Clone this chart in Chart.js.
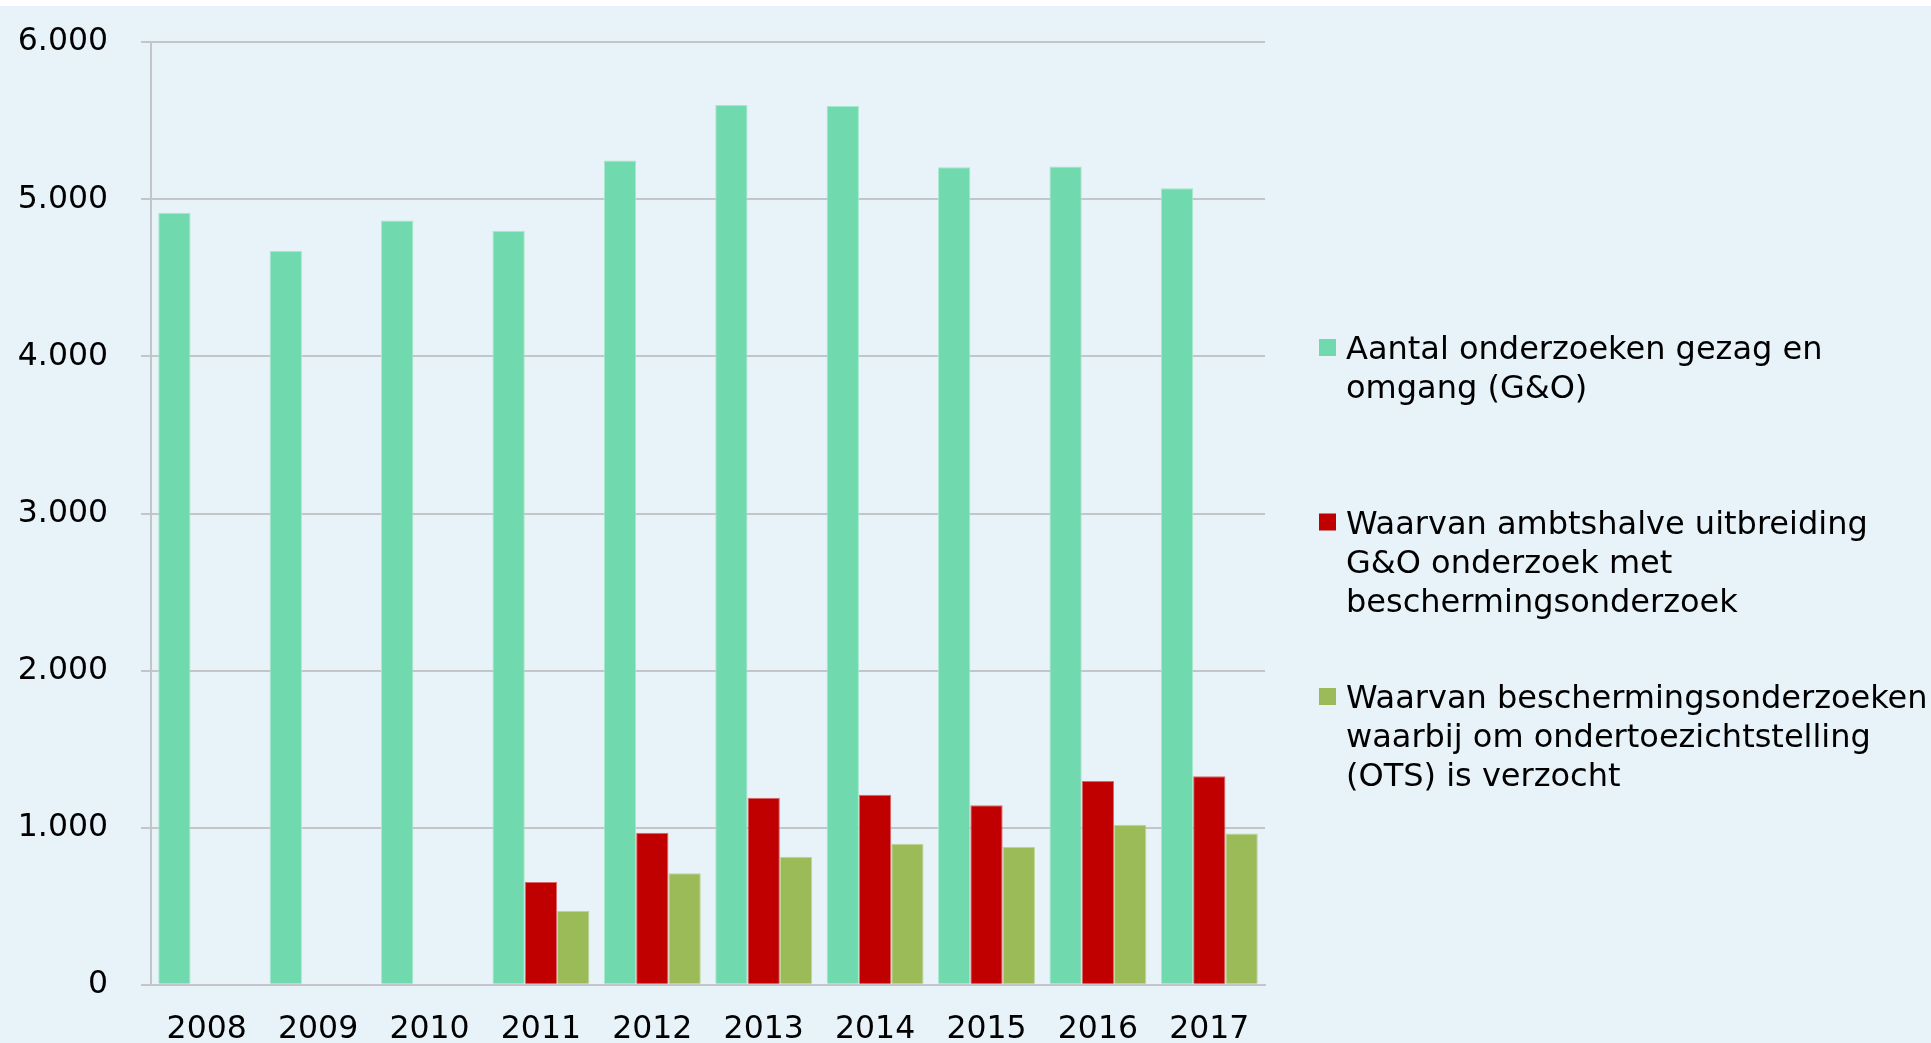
<!DOCTYPE html>
<html>
<head>
<meta charset="utf-8">
<script src="https://cdn.jsdelivr.net/npm/chart.js@4/dist/chart.umd.min.js"></script>
<style>
  html, body { margin: 0; padding: 0; background: #ffffff; overflow: hidden; }
  #wrap { position: absolute; left: 0; top: 6px; width: 1931px; height: 1037px; background: #e8f2f9; }
</style>
</head>
<body>
<div id="wrap"><canvas id="myChart" width="1931" height="1037"></canvas></div>
<script>
// data
var years = ['2008', '2009', '2010', '2011', '2012', '2013', '2014', '2015', '2016', '2017'];
var gezagOmgang = [4915, 4671, 4866, 4798, 5248, 5601, 5595, 5204, 5210, 5070];
var ambtshalve = [null, null, null, 654, 968, 1191, 1210, 1142, 1297, 1327];
var otsVerzocht = [null, null, null, 469, 710, 815, 898, 877, 1019, 962];
var yTicks = [0, 1000, 2000, 3000, 4000, 5000, 6000];

var legendLines = [
  ['Aantal onderzoeken gezag en', 'omgang (G&O)'],
  ['Waarvan ambtshalve uitbreiding', 'G&O onderzoek met', 'beschermingsonderzoek'],
  ['Waarvan beschermingsonderzoeken', 'waarbij om ondertoezichtstelling', '(OTS) is verzocht']
];

var fontFamily = '"DejaVu Sans", Verdana, sans-serif';

function fmt(v) {
  return String(v).replace(/\B(?=(\d{3})+(?!\d))/g, '.');
}

// legend drawn at the right, one item per dataset, evenly spaced like the original
var sideLegend = {
  id: 'sideLegend',
  afterDraw: function(chart) {
    var ctx = chart.ctx;
    var x0 = chart.chartArea.right + 54;
    var top = 333;
    ctx.save();
    ctx.font = '32px ' + fontFamily;
    ctx.textBaseline = 'alphabetic';
    ctx.textAlign = 'left';
    chart.data.datasets.forEach(function(ds, i) {
      var y = top + i * 174.5;
      ctx.fillStyle = ds.backgroundColor;
      ctx.fillRect(x0, y, 17, 17);
      ctx.fillStyle = '#000000';
      legendLines[i].forEach(function(line, j) {
        ctx.fillText(line, x0 + 27, y + 20 + j * 39);
      });
    });
    ctx.restore();
  }
};

var ctx = document.getElementById('myChart').getContext('2d');
var myChart = new Chart(ctx, {
  type: 'bar',
  data: {
    labels: years,
    datasets: [
      { label: legendLines[0].join(' '), data: gezagOmgang, backgroundColor: '#70d9ae', borderColor: '#a6e8cc', borderWidth: 1 },
      { label: legendLines[1].join(' '), data: ambtshalve, backgroundColor: '#c00000', borderColor: '#d96a6a', borderWidth: 1 },
      { label: legendLines[2].join(' '), data: otsVerzocht, backgroundColor: '#9bbb59', borderColor: '#bfd494', borderWidth: 1 }
    ]
  },
  options: {
    responsive: false,
    animation: false,
    layout: { padding: { top: 36.3, right: 666, left: 0, bottom: 0 } },
    datasets: { bar: { barPercentage: 1, categoryPercentage: 0.87 } },
    plugins: {
      legend: { display: false },
      tooltip: { enabled: false }
    },
    scales: {
      x: {
        grid: { display: false, drawTicks: false },
        border: { display: true, color: '#c3c6c9', width: 2 },
        ticks: { color: '#000000', padding: 26, font: { family: fontFamily, size: 31.5 } },
        afterFit: function(s) { s.height = 58.3; }
      },
      y: {
        min: 0,
        max: 6000,
        afterBuildTicks: function(s) { s.ticks = yTicks.map(function(v) { return { value: v }; }); },
        grid: { color: '#c3c6c9', lineWidth: 2, tickLength: 10 },
        border: { display: true, color: '#c3c6c9', width: 2 },
        ticks: {
          color: '#000000',
          padding: 33,
          font: { family: fontFamily, size: 31.5 },
          callback: function(v) { return fmt(v); }
        },
        afterFit: function(s) {
          s.width = 151;
          // the tick padding is horizontal only here
          s.paddingTop = 0;
          s.paddingBottom = 0;
        }
      }
    }
  },
  plugins: [sideLegend]
});
</script>
</body>
</html>
